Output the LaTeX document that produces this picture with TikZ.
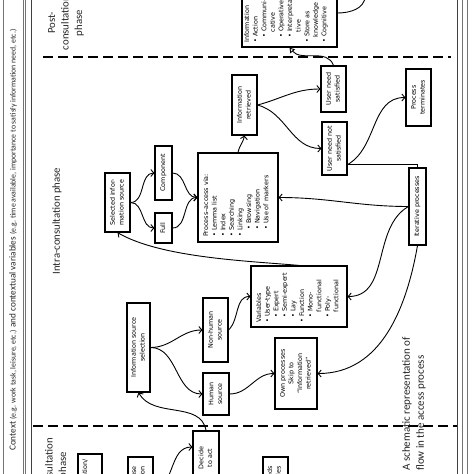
\documentclass[tikz,border=0pt]{standalone}
\usepackage{fontspec}
\usepackage{graphicx}
\setmainfont{Carlito}
\newfontfamily\bfont{DejaVu Sans}
\usetikzlibrary{arrows.meta,calc}
\newcommand{\vtxt}[1]{\rotatebox{90}{\begin{tabular}{@{}c@{}}#1\end{tabular}}}
\begin{document}
\begin{tikzpicture}[x=1pt,y=-1pt,
  box/.style={draw, line width=1.2pt, inner sep=0pt, font=\bfont\fontsize{6.4}{8.6}\selectfont},
  listtxt/.style={rotate=90, anchor=north west, align=left, inner sep=0pt, font=\bfont\fontsize{6.4}{8.6}\selectfont},
  listR/.style={rotate=90, anchor=north east, align=right, inner sep=0pt, font=\bfont\fontsize{6.4}{8.6}\selectfont},
  phase/.style={rotate=90, align=center, inner sep=0pt, font=\fontsize{10.8}{13.5}\selectfont, text=black!85},
  arr/.style={line width=0.9pt, -{Straight Barb[length=3pt,width=7pt]}},
  arrT/.style={line width=0.9pt, -{Triangle[open,length=5pt,width=6pt]}},
  con/.style={line width=0.9pt},
  frameL/.style={draw=black!55, line width=0.7pt},
  frameD/.style={draw=black!75, line width=0.9pt},
  dashl/.style={line width=1.3pt, dash pattern=on 10pt off 5pt}]
\useasboundingbox (0,0) rectangle (474,474);
\fill[white] (0,0) rectangle (474,474);
\clip (0,0) rectangle (474,474);

% frame
\foreach \xx in {3,23,25,462,467} \draw[frameL] (\xx,-5) -- (\xx,480);
\foreach \xx in {31,457} \draw[frameD] (\xx,-5) -- (\xx,480);

% phase separators
\draw[dashl] (43,57) -- (451,57);
\draw[dashl] (33,426) -- (457,426);

% texts
\node[rotate=90, anchor=west, inner sep=0pt, text=black!85] (context) at (13,451)
 {\fontsize{9.2}{11}\selectfont Context {\fontsize{7.8}{9}\selectfont (e.g. work task, leisure, etc.)} and contextual variables {\fontsize{7.8}{9}\selectfont (e.g. time available, importance to satisfy information need, etc.)}};
\node[phase] (post) at (66,23) {Post-\\consultation\\phase};
\node[phase] (intra) at (57,221) {Intra-consultation phase};
\node[phase] (pre) at (56.5,465) {consultation\\phase};
\node[rotate=90, anchor=west, align=left, inner sep=0pt, text=black!85,
      font=\fontsize{11}{14}\selectfont] (cap) at (414,471)
 {A schematic representation of\\flow in the access process};

% boxes
\node[box, minimum width=95pt, minimum height=68pt] (info) at (289.5,13) {};
\node[listtxt] (infotxt) at (244,43) {Information\\• Action\\\hspace*{5pt}• Communi-\\\hspace*{10.8pt}cative\\\hspace*{5pt}• Operative\\\hspace*{5pt}• Interpreta-\\\hspace*{10.8pt}tive\\• Store as\\\hspace*{5.8pt}knowledge\\• Cognitive};
\node[box, minimum width=25pt, minimum height=60pt] (ir) at (244.5,105) {\vtxt{Information\\retrieved}};
\node[box, minimum width=25pt, minimum height=46pt] (uns) at (333.5,89) {\vtxt{User need\\satisfied}};
\node[box, minimum width=25pt, minimum height=53pt] (unns) at (334.5,148.5) {\vtxt{User need not\\satisfied}};
\node[box, minimum width=25pt, minimum height=57pt] (pt) at (418.5,97.5) {\vtxt{Process\\terminates}};
\node[box, minimum width=17pt, minimum height=77pt] (iter) at (417.5,206.5) {\vtxt{Iterative processes}};
\node[box, minimum width=80pt, minimum height=89pt] (proc) at (238,197.5) {};
\node[listtxt] (proctxt) at (203,237) {Process–access via:\\• Lemma list\\• Index\\• Searching\\• Linking\\\hspace*{7pt}• Browsing\\\hspace*{7pt}• Navigation\\\hspace*{7pt}• Use of markers};
\node[box, minimum width=17pt, minimum height=54pt] (comp) at (163.5,173) {\vtxt{Component}};
\node[box, minimum width=17pt, minimum height=30pt] (full) at (163.5,228) {\vtxt{Full}};
\node[box, minimum width=25pt, minimum height=59pt] (sel) at (117.5,202.5) {\vtxt{Selected infor-\\mation source}};
\node[box, minimum width=23pt, minimum height=89pt] (iss) at (138.5,347.5) {\vtxt{Information source\\selection}};
\node[box, minimum width=25pt, minimum height=64pt] (nhs) at (215.5,330) {\vtxt{Non-human\\source}};
\node[box, minimum width=26pt, minimum height=42pt] (hs) at (216,394) {\vtxt{Human\\source}};
\node[box, minimum width=96pt, minimum height=61pt] (var) at (299,296.5) {};
\node[listtxt] (vartxt) at (256,323) {Variables\\• User-type\\\hspace*{5pt}• Expert\\\hspace*{5pt}• Semi-expert\\\hspace*{5pt}• Lay\\• Function\\\hspace*{5pt}• Mono-\\\hspace*{10.8pt}functional\\\hspace*{5pt}• Poly-\\\hspace*{10.8pt}functional};
\node[box, minimum width=42pt, minimum height=71pt] (own) at (296,373.5) {\vtxt{Own processes\\Skip to\\“Information\\retrieved”}};
\node[box, minimum width=26pt, minimum height=54pt] (dec) at (206,458) {\vtxt{Decide\\to act}};
\node[box, minimum width=24pt, minimum height=70pt] (pre1) at (90,489) {};
\node[listR] (pre1t) at (82,459) {Situation/};
\node[box, minimum width=25pt, minimum height=70pt] (pre2) at (140.5,492) {};
\node[listR] (pre2t) at (131,466) {Type of use\\situation};
\node[box, minimum width=25pt, minimum height=70pt] (pre3) at (275.5,492) {};
\node[listR] (pre3t) at (267,466) {Needs\\Variables};

% connectors
\coordinate (extC) at (365,-4);
\coordinate (unnsB) at ($(unns.south east)+(0,-11)$);
\draw[con] (extC) to[out=-90,in=0] (info.east);
\draw[arrT] (uns.north) to[out=110,in=-50] (info.south);
\draw[arr] (ir.east) to[out=15,in=180] (uns.west);
\draw[arr] (ir.east) to[out=-15,in=180] (unns.west);
\draw[arr] (unnsB) to[out=30,in=180] (pt.west);
\draw[con] (unnsB) -| (iter.north);
\draw[arr] (iter.west) to[out=180,in=0] (proc.east);
\draw[arr] (iter.west) to[out=210,in=0] (var.east);
\draw[arr] (iter.south) to[out=-100,in=0] (own.east);
\draw[arr] (proc.north) to[out=80,in=-100] (ir.south);
\draw[arr] (comp.east) to[out=0,in=180] (proc.west);
\draw[arr] (full.east) to[out=0,in=180] (proc.west);
\draw[arr] (sel.east) to[out=0,in=180] (comp.west);
\draw[arr] (sel.east) to[out=0,in=180] (full.west);
\draw[arr] (var.north) to[out=175,in=-30,looseness=0.7] (sel.south);
\draw[arr] (dec.north) to[out=100,in=-60] (iss.south);
\draw[arr] (iss.east) to[out=0,in=180] (nhs.west);
\draw[arr] (iss.east) to[out=0,in=180] (hs.west);
\draw[arr] (nhs.east) to[out=45,in=180] (var.west);
\draw[arr] (hs.east) to[out=0,in=180] (own.west);
\draw[arr] (pre2.east) to[out=20,in=180] ([yshift=11pt]dec.west);
\end{tikzpicture}
\end{document}
